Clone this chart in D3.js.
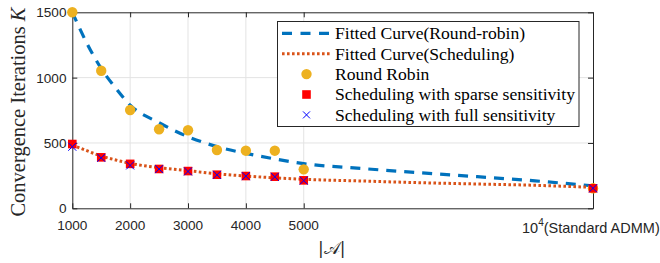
<!DOCTYPE html>
<html>
<head>
<meta charset="utf-8">
<script src="https://cdn.jsdelivr.net/npm/d3@7"></script>
<style>
  body { margin: 0; background: #fff; }
  svg { display: block; }
</style>
</head>
<body>
<div id="chart"></div>
<script>
// values
const sizes = [1000, 1500, 2000, 2500, 3000, 3500, 4000, 4500, 5000, 10000];
const roundRobin = [1500, 1053, 752, 605, 597, 446, 441, 441, 298, 153];
const schedSparse = [492, 390, 340, 301, 285, 257, 247, 242, 214, 153];
const schedFull = [471, 386, 328, 300, 282, 256, 246, 241, 212, 153];

const fitX = [1000, 1250, 1500, 1750, 2000, 2500, 3000, 3500, 4000, 4500, 5000, 6000, 7000, 8000, 9000, 10000];
const fitRoundRobin = [1500, 1265, 1070, 920, 790, 655, 548, 472, 420, 378, 342, 305, 272, 242, 210, 172];
const fitScheduling = [485, 441, 400, 370, 344, 311, 288, 264, 247, 233, 222, 209, 196, 186, 176, 160];

const xTicks = [1000, 2000, 3000, 4000, 5000];
const yTicks = [0, 500, 1000, 1500];

const width = 660, height = 263;
const margins = { top: 12.3, bottom: 54.7, left: 72.3, right: 67 };

const svg = d3.select('#chart').append('svg')
  .attr('width', width)
  .attr('height', height);

const x = d3.scaleLinear().domain([1000, 10000]).range([margins.left, width - margins.right]);
const y = d3.scaleLinear().domain([0, 1500]).range([height - margins.bottom, margins.top]);

const axisColor = '#262626';
const tickFont = '"Liberation Sans", Arial, sans-serif';
const serifFont = '"Liberation Serif", "Times New Roman", serif';

// grid
const grid = svg.append('g').attr('class', 'grid');
grid.selectAll('line.vx').data(xTicks.slice(1)).enter().append('line')
  .attr('x1', d => x(d)).attr('x2', d => x(d))
  .attr('y1', y(0)).attr('y2', y(1500))
  .style('stroke', '#e3e3e3').style('stroke-width', 1);
grid.selectAll('line.hy').data(yTicks.slice(1, -1)).enter().append('line')
  .attr('x1', x(1000)).attr('x2', x(10000))
  .attr('y1', d => y(d)).attr('y2', d => y(d))
  .style('stroke', '#e3e3e3').style('stroke-width', 1);

// axes (MATLAB style: inward ticks, box on)
const tickLen = 5;
const xAxisB = d3.axisBottom(x).tickValues(xTicks.concat([10000])).tickSizeInner(-tickLen).tickSizeOuter(0).tickFormat('');
const xAxisT = d3.axisTop(x).tickValues(xTicks.concat([10000])).tickSizeInner(-tickLen).tickSizeOuter(0).tickFormat('');
const yAxisL = d3.axisLeft(y).tickValues(yTicks).tickSizeInner(-tickLen).tickSizeOuter(0).tickFormat('');
const yAxisR = d3.axisRight(y).tickValues(yTicks).tickSizeInner(-tickLen).tickSizeOuter(0).tickFormat('');

const axes = [
  svg.append('g').attr('transform', 'translate(0,' + y(0) + ')').call(xAxisB),
  svg.append('g').attr('transform', 'translate(0,' + y(1500) + ')').call(xAxisT),
  svg.append('g').attr('transform', 'translate(' + x(1000) + ',0)').call(yAxisL),
  svg.append('g').attr('transform', 'translate(' + x(10000) + ',0)').call(yAxisR)
];
axes.forEach(a => {
  a.selectAll('path').style('stroke', axisColor).style('stroke-width', 1);
  a.selectAll('line').style('stroke', axisColor).style('stroke-width', 1);
});

// tick labels
svg.append('g').selectAll('text').data(xTicks).enter().append('text')
  .attr('x', d => x(d)).attr('y', 229.5)
  .attr('text-anchor', 'middle')
  .style('font-family', tickFont).style('font-size', '13.6px').style('fill', axisColor)
  .text(d => d);

const adm = svg.append('text')
  .attr('x', x(10000) - 71).attr('y', 233)
  .style('font-family', tickFont).style('font-size', '14.5px').style('fill', axisColor);
adm.append('tspan').text('10');
adm.append('tspan').attr('dy', -7).style('font-size', '10px').text('4');
adm.append('tspan').attr('dy', 7).text('(Standard ADMM)');

svg.append('g').selectAll('text').data(yTicks).enter().append('text')
  .attr('x', 66.5).attr('y', d => y(d) + 5)
  .attr('text-anchor', 'end')
  .style('font-family', tickFont).style('font-size', '13.6px').style('fill', axisColor)
  .text(d => d);

// axis labels
const ylab = svg.append('text')
  .attr('transform', 'translate(24.5,112) rotate(-90)')
  .attr('text-anchor', 'middle')
  .style('font-family', serifFont).style('font-size', '20.5px').style('fill', axisColor);
ylab.append('tspan').text('Convergence Iterations ');
ylab.append('tspan').style('font-style', 'italic').text('K');

svg.append('text')
  .attr('x', 331.7).attr('y', 254)
  .attr('text-anchor', 'middle')
  .style('font-family', '"DejaVu Serif", serif').style('font-size', '17px').style('fill', axisColor)
  .text('|𝒜|');

// fitted curves
const fitLine = d3.line().x(d => x(d[0])).y(d => y(d[1])).curve(d3.curveMonotoneX);

svg.append('path')
  .datum(fitX.map((v, i) => [v, fitRoundRobin[i]]))
  .attr('d', fitLine)
  .style('fill', 'none').style('stroke', '#0072BD').style('stroke-width', 3.2)
  .style('stroke-dasharray', '10,8');

svg.append('path')
  .datum(fitX.map((v, i) => [v, fitScheduling[i]]))
  .attr('d', fitLine)
  .style('fill', 'none').style('stroke', '#D95319').style('stroke-width', 3)
  .style('stroke-dasharray', '2.6,2.4');

// markers
svg.append('g').selectAll('circle').data(sizes).enter().append('circle')
  .attr('cx', d => x(d)).attr('cy', (d, i) => y(roundRobin[i]))
  .attr('r', 5.2)
  .style('fill', '#EDB120');

svg.append('g').selectAll('rect').data(sizes).enter().append('rect')
  .attr('x', d => x(d) - 4.3).attr('y', (d, i) => y(schedSparse[i]) - 4.3)
  .attr('width', 8.6).attr('height', 8.6)
  .style('fill', '#FF0000');

const cross = d3.symbol().type(d3.symbolX).size(40);
svg.append('g').selectAll('path').data(sizes).enter().append('path')
  .attr('transform', (d, i) => 'translate(' + x(d) + ',' + y(schedFull[i]) + ') scale(1)')
  .attr('d', d3.line()([[-4, -4], [4, 4]]) + d3.line()([[-4, 4], [4, -4]]))
  .style('fill', 'none').style('stroke', '#0000FF').style('stroke-width', 1);

// legend
const legend = svg.append('g').attr('class', 'legend');
legend.append('rect')
  .attr('x', 277.5).attr('y', 21.5).attr('width', 301.5).attr('height', 105)
  .style('fill', '#fff').style('stroke', axisColor).style('stroke-width', 1);

const legendItems = ['Fitted Curve(Round-robin)', 'Fitted Curve(Scheduling)', 'Round Robin',
  'Scheduling with sparse sensitivity', 'Scheduling with full sensitivity'];
const rowY = i => 33.3 + i * 20.4;

legend.selectAll('text').data(legendItems).enter().append('text')
  .attr('x', 335).attr('y', (d, i) => rowY(i) + 5.8)
  .style('font-family', serifFont).style('font-size', '17.6px').style('fill', '#000')
  .text(d => d);

legend.append('line')
  .attr('x1', 282).attr('x2', 330).attr('y1', rowY(0)).attr('y2', rowY(0))
  .style('stroke', '#0072BD').style('stroke-width', 3.2).style('stroke-dasharray', '10,8.5');
legend.append('line')
  .attr('x1', 282).attr('x2', 330).attr('y1', rowY(1)).attr('y2', rowY(1))
  .style('stroke', '#D95319').style('stroke-width', 3).style('stroke-dasharray', '2.6,2.4');
legend.append('circle')
  .attr('cx', 306.5).attr('cy', rowY(2)).attr('r', 5.2).style('fill', '#EDB120');
legend.append('rect')
  .attr('x', 306.5 - 4.3).attr('y', rowY(3) - 4.3).attr('width', 8.6).attr('height', 8.6)
  .style('fill', '#FF0000');
legend.append('path')
  .attr('transform', 'translate(306.5,' + rowY(4) + ')')
  .attr('d', d3.line()([[-3.5, -3.5], [3.5, 3.5]]) + d3.line()([[-3.5, 3.5], [3.5, -3.5]]))
  .style('fill', 'none').style('stroke', '#0000FF').style('stroke-width', 1);
</script>
</body>
</html>
